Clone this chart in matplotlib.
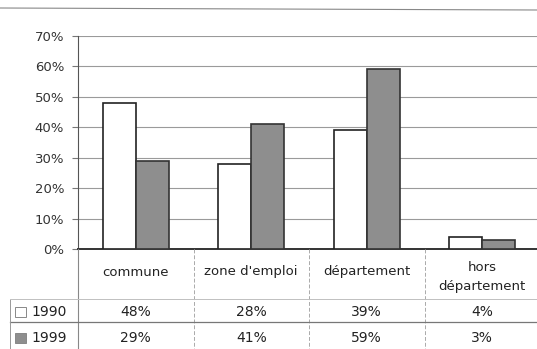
import matplotlib.pyplot as plt
from matplotlib.patches import Rectangle
import numpy as np

categories = ["commune", "zone d'emploi", "département", "hors\ndépartement"]
years = ["1990", "1999"]
values_1990 = [48, 28, 39, 4]
values_1999 = [29, 41, 59, 3]
table_1990 = ["48%", "28%", "39%", "4%"]
table_1999 = ["29%", "41%", "59%", "3%"]
yticks = [0, 10, 20, 30, 40, 50, 60, 70]

W, H = 537, 349
fig = plt.figure(figsize=(W / 100, H / 100), dpi=100)
fig.patch.set_facecolor("white")


def fx(px):
    return px / W


def fy(py):
    return 1 - py / H


n = len(categories)
cell_w = 115.5
x0 = 78
x1 = x0 + n * cell_w
y_top, y_bot = 36, 249
ax = fig.add_axes([fx(x0), fy(y_bot), fx(x1) - fx(x0), fy(y_top) - fy(y_bot)])

x = np.arange(n)
bw = 0.285
c_1990 = "white"
c_1999 = "#8e8e8e"
ax.bar(x - bw / 2, values_1990, bw, color=c_1990, edgecolor="#222222", linewidth=1.2, zorder=3)
ax.bar(x + bw / 2, values_1999, bw, color=c_1999, edgecolor="#333333", linewidth=1.2, zorder=3)
ax.set_xlim(-0.5, n - 0.5)
ax.set_ylim(0, 70)
ax.set_yticks(yticks)
ax.set_yticklabels([f"{v}%" for v in yticks], fontsize=9.5, color="#333333")
ax.set_xticks([])
ax.grid(axis="y", color="#9a9a9a", linewidth=0.8, zorder=0)
ax.tick_params(axis="y", length=4, color="#777777", pad=6)
for s in ["top", "right"]:
    ax.spines[s].set_visible(False)
ax.spines["left"].set_color("#555555")
ax.spines["bottom"].set_color("#333333")
ax.spines["bottom"].set_linewidth(1.4)

# data table below the plot
bounds = [x0 + i * cell_w for i in range(n + 1)]
row_head = (249, 299)
row_a = (299, 322)
row_b = (322, 349)
fig.add_artist(plt.Line2D([fx(x0), fx(x0)], [fy(249), fy(349)], color="#888888", linewidth=0.8))
for b in bounds[1:n]:
    fig.add_artist(plt.Line2D([fx(b), fx(b)], [fy(249), fy(349)], color="#aaaaaa",
                              linewidth=0.7, linestyle=(0, (4, 2))))
fig.add_artist(plt.Line2D([fx(10), fx(W)], [fy(299), fy(299)], color="#c0c0c0", linewidth=0.7))
fig.add_artist(plt.Line2D([fx(10), fx(W)], [fy(322), fy(322)], color="#777777", linewidth=0.9))
fig.add_artist(plt.Line2D([fx(10), fx(10)], [fy(300), fy(349)], color="#999999", linewidth=0.7))
fig.add_artist(plt.Line2D([fx(0), fx(W)], [fy(8), fy(10)], color="#888888", linewidth=0.8))

for i, cat in enumerate(categories):
    cx = (bounds[i] + bounds[i + 1]) / 2
    cy = sum(row_head) / 2 - 2 if "\n" not in cat else sum(row_head) / 2 + 3
    fig.text(fx(cx), fy(cy), cat, ha="center", va="center",
             fontsize=9.5, color="#222222", linespacing=1.6)
    fig.text(fx(cx), fy(sum(row_a) / 2 + 1), table_1990[i], ha="center", va="center",
             fontsize=10, color="#222222")
    fig.text(fx(cx), fy(sum(row_b) / 2 + 2), table_1999[i], ha="center", va="center",
             fontsize=10, color="#222222")

for (r, yr, col, off) in [(row_a, years[0], c_1990, 1), (row_b, years[1], c_1999, 2)]:
    cy = sum(r) / 2 + off
    fig.add_artist(Rectangle((fx(15), fy(cy + 5)), fx(11), fy(cy - 5) - fy(cy + 5),
                             facecolor=col, edgecolor="#888888", linewidth=0.7))
    fig.text(fx(31), fy(cy), yr, ha="left", va="center", fontsize=10, color="#222222")

fig.savefig("out.png", dpi=100)
